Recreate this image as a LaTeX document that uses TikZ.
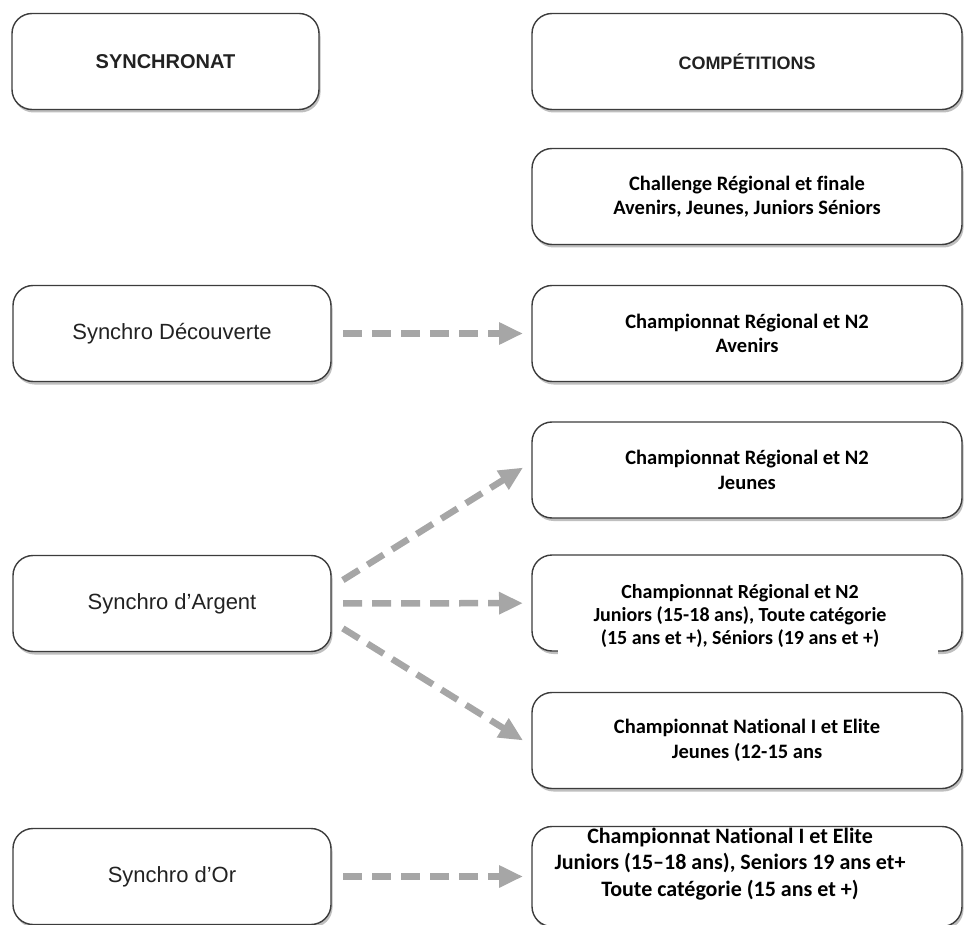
\documentclass[tikz,border=0pt]{standalone}
\usepackage{fontspec}
\setmainfont{Carlito}[Ligatures=NoCommon]
\newfontfamily\arialfont{Liberation Sans}
\usetikzlibrary{arrows.meta,shadows}
\definecolor{boxline}{HTML}{3C3C3C}
\definecolor{arrowgray}{HTML}{A6A6A6}
\definecolor{lefttext}{HTML}{222222}

\begin{document}
\begin{tikzpicture}[x=1pt, y=-1pt,
    box/.style={draw=boxline, line width=1.4pt, rounded corners=20pt, fill=white,
      drop shadow={shadow xshift=1.5pt, shadow yshift=-3pt, opacity=.25, fill=black},
      minimum height=96pt, inner sep=0pt, outer sep=0pt, align=center},
    leftbox/.style={box, minimum width=318pt, text=lefttext,
      font=\arialfont\fontsize{22}{26}\selectfont},
    rightbox/.style={box, minimum width=430pt,
      font=\bfseries\fontsize{20.5}{24.5}\selectfont},
    txt/.style={align=center, inner sep=0pt,
      font=\bfseries\fontsize{20}{23}\selectfont},
    flow/.style={draw=arrowgray, line width=6.5pt, dash pattern=on 19pt off 10pt,
      -{Triangle[length=24pt,width=21pt]}}]
    \useasboundingbox (0,0) rectangle (964,925);

    \node[box, minimum width=307pt, text=lefttext,
      font=\arialfont\bfseries\fontsize{20}{24}\selectfont] (synchronat) at (165.5,61.5) {SYNCHRONAT};
    \node[rightbox, text=lefttext,
      font=\arialfont\bfseries\fontsize{18}{22}\selectfont] (competitions) at (747,61.5) {COMP\'ETITIONS};

    \node[rightbox] (challenge) at (747,196.5) {Challenge Régional et finale\\Avenirs, Jeunes, Juniors Séniors};

    \node[leftbox] (decouverte) at (172,333.5) {Synchro Découverte};
    \node[rightbox] (avenirs) at (747,333.5) {Championnat Régional et N2\\Avenirs};

    \node[rightbox] (jeunes) at (747,470) {Championnat Régional et N2\\Jeunes};

    \node[leftbox] (argent) at (172,603.5) {Synchro d’Argent};
    \node[rightbox] (juniors) at (747,603) {};
    \fill[white] (558,646) rectangle (938,668);
    \node[txt] (juniorstxt) at (740,616) {Championnat Régional et N2\\Juniors (15-18 ans), Toute catégorie\\(15 ans et +), Séniors (19 ans et +)};

    \node[rightbox] (natjeunes) at (747,740.5) {Championnat National I et Elite\\Jeunes (12-15 ans};

    \node[leftbox] (or) at (172,876.5) {Synchro d’Or};
    \node[rightbox, minimum height=100pt] (natjuniors) at (747,876.5) {};
    \node[txt, font=\bfseries\fontsize{22}{26.5}\selectfont] (natjuniorstxt) at (730,864) {Championnat National I et Elite\\Juniors (15–18 ans), Seniors 19 ans et+\\Toute catégorie (15 ans et +)};

    \draw[flow, shorten <=12pt, shorten >=9pt] (decouverte) -- (avenirs);
    \draw[flow, shorten <=14pt, shorten >=10.5pt] ([yshift=16pt]argent.east) -- ([yshift=8pt]jeunes.west);
    \draw[flow, shorten <=12pt, shorten >=9pt] (argent) -- (juniors);
    \draw[flow, shorten <=14pt, shorten >=10.5pt] ([yshift=-17.5pt]argent.east) -- ([yshift=-5.5pt]natjeunes.west);
    \draw[flow, shorten <=12pt, shorten >=9pt] (or) -- (natjuniors);
\end{tikzpicture}
\end{document}
